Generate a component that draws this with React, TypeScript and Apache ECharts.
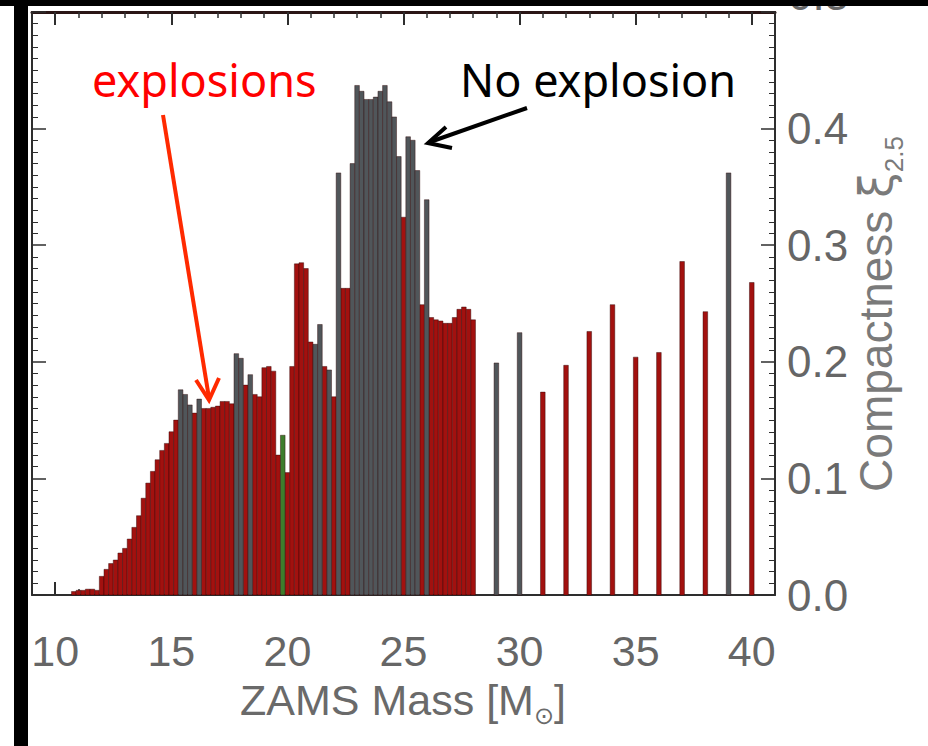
import React, { useEffect, useRef } from 'react';
import * as echarts from 'echarts';

// ZAMS masses (Msun)
const masses = [
  10.8, 11.0, 11.2, 11.4, 11.6, 11.8, 12.0, 12.2, 12.4, 12.6, 12.8, 13.0, 13.2, 13.4, 13.6, 13.8,
  14.0, 14.2, 14.4, 14.6, 14.8, 15.0, 15.2, 15.4, 15.6, 15.8, 16.0, 16.2, 16.4, 16.6, 16.8, 17.0,
  17.2, 17.4, 17.6, 17.8, 18.0, 18.2, 18.4, 18.6, 18.8, 19.0, 19.2, 19.4, 19.6, 19.8, 20.0, 20.2,
  20.4, 20.6, 20.8, 21.0, 21.2, 21.4, 21.6, 21.8, 22.0, 22.2, 22.4, 22.6, 22.8, 23.0, 23.2, 23.4,
  23.6, 23.8, 24.0, 24.2, 24.4, 24.6, 24.8, 25.0, 25.2, 25.4, 25.6, 25.8, 26.0, 26.2, 26.4, 26.6,
  26.8, 27.0, 27.2, 27.4, 27.6, 27.8, 28.0,
  29, 30, 31, 32, 33, 34, 35, 36, 37, 38, 39, 40,
];

// compactness xi_2.5
const compactness = [
  0.003, 0.004, 0.004, 0.005, 0.005, 0.004, 0.016, 0.022, 0.027, 0.030, 0.036, 0.040, 0.048, 0.058, 0.068, 0.083,
  0.096, 0.106, 0.116, 0.124, 0.130, 0.140, 0.150, 0.176, 0.172, 0.163, 0.156, 0.168, 0.160, 0.160, 0.161, 0.162,
  0.166, 0.166, 0.164, 0.207, 0.203, 0.180, 0.189, 0.172, 0.170, 0.195, 0.196, 0.192, 0.120, 0.137, 0.105, 0.196,
  0.284, 0.285, 0.280, 0.217, 0.215, 0.232, 0.196, 0.193, 0.170, 0.362, 0.263, 0.263, 0.370, 0.437, 0.432, 0.425,
  0.425, 0.427, 0.432, 0.437, 0.423, 0.410, 0.376, 0.324, 0.393, 0.390, 0.364, 0.249, 0.339, 0.238, 0.236, 0.235,
  0.233, 0.233, 0.238, 0.245, 0.247, 0.245, 0.236,
  0.199, 0.225, 0.174, 0.197, 0.226, 0.249, 0.204, 0.208, 0.286, 0.243, 0.362, 0.268,
];

// E = explosion, N = no explosion, G = green-marked model
const outcome = [
  'E', 'E', 'E', 'E', 'E', 'E', 'E', 'E', 'E', 'E', 'E', 'E', 'E', 'E', 'E', 'E',
  'E', 'E', 'E', 'E', 'E', 'E', 'E', 'N', 'N', 'N', 'E', 'N', 'E', 'E', 'E', 'E',
  'E', 'E', 'E', 'N', 'N', 'E', 'N', 'E', 'E', 'E', 'E', 'E', 'E', 'G', 'E', 'E',
  'E', 'E', 'E', 'E', 'N', 'N', 'E', 'N', 'E', 'N', 'E', 'E', 'N', 'N', 'N', 'N',
  'N', 'N', 'N', 'N', 'N', 'N', 'N', 'E', 'N', 'N', 'N', 'E', 'N', 'E', 'E', 'E',
  'E', 'E', 'E', 'E', 'E', 'E', 'E',
  'N', 'N', 'E', 'E', 'E', 'E', 'E', 'E', 'E', 'E', 'N', 'E',
];

const xTickLabels = [10, 15, 20, 25, 30, 35, 40];
const yTickLabels = [0, 0.1, 0.2, 0.3, 0.4];
const BAR_HALF = 0.1;

const COLORS: Record<string, string> = { E: '#a2110f', N: '#50565a', G: '#3d7d2c' };

const AXIS_FONT = "'Liberation Sans', Arial, sans-serif";

export default function App() {
  const ref = useRef<HTMLDivElement>(null);

  useEffect(() => {
    const chart = echarts.init(ref.current!, null, { renderer: 'svg' });

    const renderItem = (color: string) => (params: any, api: any) => {
      const m = api.value(0);
      const v = api.value(1);
      const p0 = api.coord([m - BAR_HALF, v]);
      const p1 = api.coord([m + BAR_HALF, 0]);
      return {
        type: 'rect',
        shape: { x: p0[0], y: p0[1], width: p1[0] - p0[0], height: p1[1] - p0[1] },
        style: { fill: color, stroke: 'rgba(45,8,8,0.55)', lineWidth: 0.8 },
      };
    };

    const seriesFor = (code: string, name: string) => ({
      type: 'custom',
      name,
      xAxisIndex: 0,
      yAxisIndex: 0,
      renderItem: renderItem(COLORS[code]),
      data: masses
        .map((m, i) => (outcome[i] === code ? [m, compactness[i]] : null))
        .filter((d) => d !== null),
      z: 2,
    });

    const axisColor = '#2e2e2e';
    const minorX = {
      type: 'value',
      min: 9,
      max: 41,
      interval: 1,
      axisLine: { show: true, lineStyle: { color: axisColor, width: 2 } },
      axisTick: { show: true, inside: true, length: 6, lineStyle: { color: axisColor, width: 1.5 } },
      axisLabel: { show: false },
      splitLine: { show: false },
    };
    const majorX = {
      type: 'value',
      min: 9,
      max: 41,
      axisLine: { show: false },
      axisTick: { show: true, inside: true, length: 13, customValues: xTickLabels, lineStyle: { color: axisColor, width: 2 } },
      splitLine: { show: false },
    };

    const yBase = {
      type: 'value',
      min: 0,
      max: 0.5,
      interval: 0.1,
      axisLine: { show: true, lineStyle: { color: axisColor, width: 2 } },
      axisTick: { show: true, inside: true, length: 14, lineStyle: { color: axisColor, width: 1.5 } },
      minorTick: { show: true, splitNumber: 10, length: 6, lineStyle: { color: axisColor, width: 1 } },
      splitLine: { show: false },
      minorSplitLine: { show: false },
    };

    const option: any = {
      animation: false,
      backgroundColor: '#ffffff',
      grid: { left: 32, right: 153, top: 12, bottom: 151, containLabel: false },
      xAxis: [
        { ...minorX, position: 'bottom' },
        {
          ...majorX,
          position: 'bottom',
          axisLabel: {
            show: true,
            customValues: xTickLabels,
            margin: 34,
            fontSize: 43,
            fontFamily: AXIS_FONT,
            color: '#666666',
            formatter: (v: number) => String(v),
          },
        },
        { ...minorX, position: 'top', axisLine: { show: true, lineStyle: { color: '#2a1515', width: 3 } } },
        { ...majorX, position: 'top', axisLabel: { show: false } },
      ],
      yAxis: [
        { ...yBase, position: 'left', axisLabel: { show: false } },
        {
          ...yBase,
          position: 'right',
          axisLabel: {
            show: true,
            margin: 12,
            fontSize: 44,
            fontFamily: AXIS_FONT,
            color: '#666666',
            formatter: (v: number) => (yTickLabels.some((t) => Math.abs(t - v) < 1e-6) ? v.toFixed(1) : ''),
          },
        },
      ],
      series: [seriesFor('E', 'explosion'), seriesFor('N', 'no explosion'), seriesFor('G', 'other')],
      graphic: [
        // partially hidden top label of the right axis
        {
          type: 'text',
          x: 788,
          y: -6,
          z: 50,
          style: { text: '0.5', fontSize: 44, fontFamily: AXIS_FONT, fill: '#666666', align: 'left', verticalAlign: 'middle' },
        },
        // x-axis title
        {
          type: 'text',
          x: 403,
          y: 703,
          z: 50,
          style: {
            text: '{a|ZAMS Mass [M}{s|⊙}{a|]}',
            align: 'center',
            verticalAlign: 'middle',
            rich: {
              a: { fontSize: 43, fontFamily: AXIS_FONT, fill: '#6a6a6a', lineHeight: 50, verticalAlign: 'top' },
              s: { fontSize: 24, fontFamily: "'DejaVu Sans', sans-serif", fill: '#6a6a6a', lineHeight: 24, verticalAlign: 'bottom' },
            },
          },
        },
        // y-axis title (rotated)
        {
          type: 'text',
          x: 880,
          y: 314,
          rotation: Math.PI / 2,
          z: 50,
          style: {
            text: '{a|Compactness }{x|ξ}{s|2.5}',
            align: 'center',
            verticalAlign: 'middle',
            rich: {
              a: { fontSize: 46, fontFamily: AXIS_FONT, fill: '#7a7a7a', lineHeight: 54, verticalAlign: 'top' },
              x: { fontSize: 46, fontFamily: "'DejaVu Sans', sans-serif", fill: '#7a7a7a', lineHeight: 54, verticalAlign: 'top' },
              s: { fontSize: 26, fontFamily: AXIS_FONT, fill: '#7a7a7a', lineHeight: 26, verticalAlign: 'bottom' },
            },
          },
        },
        // annotations
        {
          type: 'text',
          x: 92,
          y: 79,
          z: 60,
          style: { text: 'explosions', fontSize: 45, fontFamily: "'Noto Sans', sans-serif", fill: '#ff0000', align: 'left', verticalAlign: 'middle' },
        },
        {
          type: 'text',
          x: 460,
          y: 79,
          z: 60,
          style: { text: 'No explosion', fontSize: 45, fontFamily: "'Noto Sans', sans-serif", fill: '#000000', align: 'left', verticalAlign: 'middle' },
        },
        {
          type: 'line',
          z: 60,
          shape: { x1: 163, y1: 115, x2: 209, y2: 398 },
          style: { stroke: '#ff2a00', lineWidth: 4, lineCap: 'butt' },
        },
        {
          type: 'polyline',
          z: 60,
          shape: { points: [[196, 380], [209, 400], [219, 378]] },
          style: { stroke: '#ff2a00', lineWidth: 4, fill: 'none', lineJoin: 'miter' },
        },
        {
          type: 'line',
          z: 60,
          shape: { x1: 527, y1: 108, x2: 430, y2: 142 },
          style: { stroke: '#000000', lineWidth: 4, lineCap: 'butt' },
        },
        {
          type: 'polyline',
          z: 60,
          shape: { points: [[446, 127], [428, 143], [452, 148]] },
          style: { stroke: '#000000', lineWidth: 4, fill: 'none', lineJoin: 'miter' },
        },
        // black frame pieces from the cropped slide
        { type: 'rect', z: 100, shape: { x: 0, y: 0, width: 928, height: 6 }, style: { fill: '#000000' } },
        { type: 'rect', z: 100, shape: { x: 14, y: 0, width: 14, height: 746 }, style: { fill: '#000000' } },
      ],
    };

    chart.setOption(option);
    return () => chart.dispose();
  }, []);

  return (
    <div
      ref={ref}
      style={{ position: 'fixed', left: 0, top: 0, width: 928, height: 746, background: '#ffffff' }}
    />
  );
}
